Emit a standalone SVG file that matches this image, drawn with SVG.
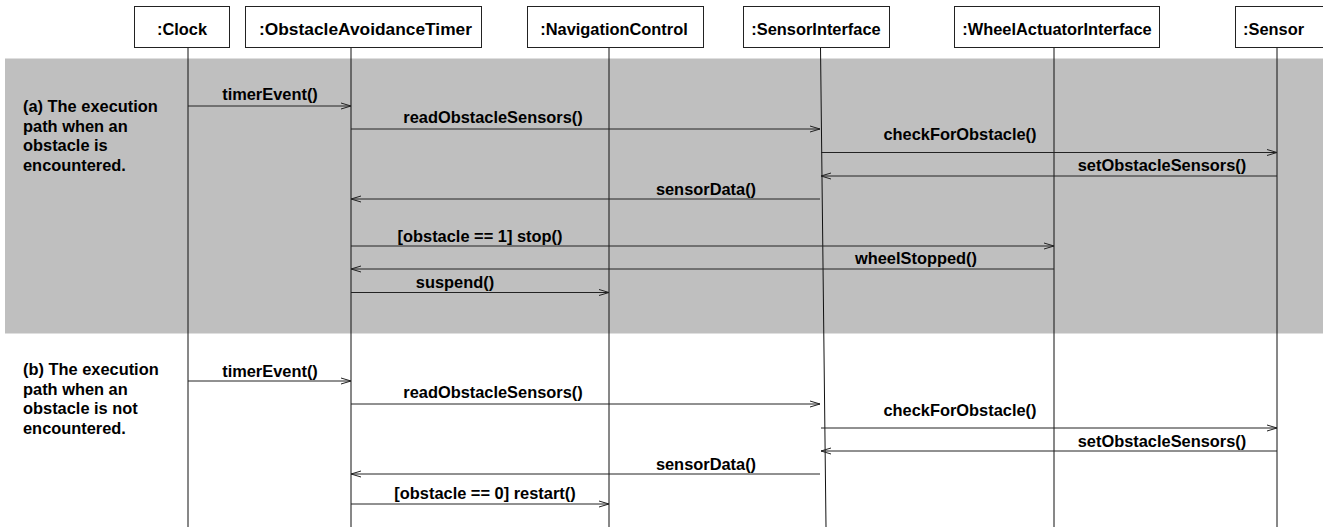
<svg xmlns="http://www.w3.org/2000/svg" width="1323" height="527" viewBox="0 0 1323 527">
  <style>
    text { font-family: "Liberation Sans", Arial, Helvetica, sans-serif; font-weight: bold; font-size: 16.4px; fill: #000; }
    .box { fill: #fff; stroke: #222; stroke-width: 1; }
    .life { stroke: #111; stroke-width: 1; fill: none; }
    .msg { stroke: #222; stroke-width: 1; fill: none; }
    .mid { text-anchor: middle; }
  </style>
  <defs>
    <marker id="open" markerUnits="userSpaceOnUse" markerWidth="12" markerHeight="8" refX="11" refY="4" orient="auto">
      <path d="M1,1 L11,4 L1,7" fill="none" stroke="#222" stroke-width="1"/>
    </marker>
  </defs>

  <rect width="1323" height="527" fill="#fff"/>

  <!-- shaded band for scenario (a) -->
  <rect id="band-a" x="5" y="58.5" width="1318" height="275" fill="#bfbfbf"/>

  <!-- lifelines -->
  <g id="lifelines">
    <line class="life" x1="188" y1="47" x2="188" y2="527"/>
    <line class="life" x1="351" y1="47" x2="351" y2="527"/>
    <line class="life" x1="609" y1="47" x2="609" y2="527"/>
    <line class="life" x1="820.5" y1="47" x2="826" y2="527"/>
    <line class="life" x1="1054" y1="47" x2="1054" y2="527"/>
    <line class="life" x1="1277" y1="47" x2="1277" y2="527"/>
  </g>

  <!-- participants -->
  <g id="clock">
    <rect class="box" x="134.5" y="6.5" width="95" height="41"/>
    <text class="mid" x="182" y="35">:Clock</text>
  </g>
  <g id="obstacle-avoidance-timer">
    <rect class="box" x="245.5" y="6.5" width="236" height="41"/>
    <text x="259" y="35" textLength="213" lengthAdjust="spacingAndGlyphs">:ObstacleAvoidanceTimer</text>
  </g>
  <g id="navigation-control">
    <rect class="box" x="527.5" y="6.5" width="176" height="41"/>
    <text class="mid" x="614" y="35">:NavigationControl</text>
  </g>
  <g id="sensor-interface">
    <rect class="box" x="743.5" y="6.5" width="146" height="41"/>
    <text class="mid" x="816" y="35">:SensorInterface</text>
  </g>
  <g id="wheel-actuator-interface">
    <rect class="box" x="954.5" y="6.5" width="205" height="41"/>
    <text class="mid" x="1057" y="35">:WheelActuatorInterface</text>
  </g>
  <g id="sensor">
    <rect class="box" x="1235.5" y="6.5" width="100" height="41"/>
    <text x="1243" y="35">:Sensor</text>
  </g>

  <!-- scenario captions -->
  <g id="caption-a">
    <text x="23" y="112">(a) The execution</text>
    <text x="23" y="131.5">path when an</text>
    <text x="23" y="151">obstacle is</text>
    <text x="23" y="170.5">encountered.</text>
  </g>
  <g id="caption-b">
    <text x="23" y="375">(b) The execution</text>
    <text x="23" y="394.5">path when an</text>
    <text x="23" y="414">obstacle is not</text>
    <text x="23" y="433.5">encountered.</text>
  </g>

  <!-- messages -->
  <g id="connectors">
    <!-- (a) obstacle encountered -->
    <line class="msg" x1="188" y1="106" x2="351" y2="106" marker-end="url(#open)"/>
    <line class="msg" x1="351" y1="129" x2="820" y2="129" marker-end="url(#open)"/>
    <line class="msg" x1="821" y1="152.5" x2="1277" y2="152.5" marker-end="url(#open)"/>
    <line class="msg" x1="1277" y1="176" x2="821" y2="176" marker-end="url(#open)"/>
    <line class="msg" x1="820" y1="199" x2="351" y2="199" marker-end="url(#open)"/>
    <line class="msg" x1="351" y1="246" x2="1054" y2="246" marker-end="url(#open)"/>
    <line class="msg" x1="1054" y1="269" x2="351" y2="269" marker-end="url(#open)"/>
    <line class="msg" x1="351" y1="292.5" x2="609" y2="292.5" marker-end="url(#open)"/>
    <!-- (b) obstacle not encountered -->
    <line class="msg" x1="188" y1="381" x2="351" y2="381" marker-end="url(#open)"/>
    <line class="msg" x1="351" y1="404" x2="820" y2="404" marker-end="url(#open)"/>
    <line class="msg" x1="821" y1="428" x2="1277" y2="428" marker-end="url(#open)"/>
    <line class="msg" x1="1277" y1="451" x2="821" y2="451" marker-end="url(#open)"/>
    <line class="msg" x1="820" y1="474" x2="351" y2="474" marker-end="url(#open)"/>
    <line class="msg" x1="351" y1="504" x2="609" y2="504" marker-end="url(#open)"/>
  </g>

  <!-- message labels -->
  <g id="labels">
    <text class="mid" x="270" y="100">timerEvent()</text>
    <text class="mid" x="493" y="123">readObstacleSensors()</text>
    <text class="mid" x="960" y="140">checkForObstacle()</text>
    <text class="mid" x="1162" y="170.5">setObstacleSensors()</text>
    <text class="mid" x="706" y="194.5">sensorData()</text>
    <text class="mid" x="480" y="241.5">[obstacle == 1] stop()</text>
    <text class="mid" x="916" y="264">wheelStopped()</text>
    <text class="mid" x="455" y="288">suspend()</text>

    <text class="mid" x="270" y="376.5">timerEvent()</text>
    <text class="mid" x="493" y="398">readObstacleSensors()</text>
    <text class="mid" x="960" y="416">checkForObstacle()</text>
    <text class="mid" x="1162" y="446.5">setObstacleSensors()</text>
    <text class="mid" x="706" y="470">sensorData()</text>
    <text class="mid" x="485" y="498.5">[obstacle == 0] restart()</text>
  </g>
</svg>
